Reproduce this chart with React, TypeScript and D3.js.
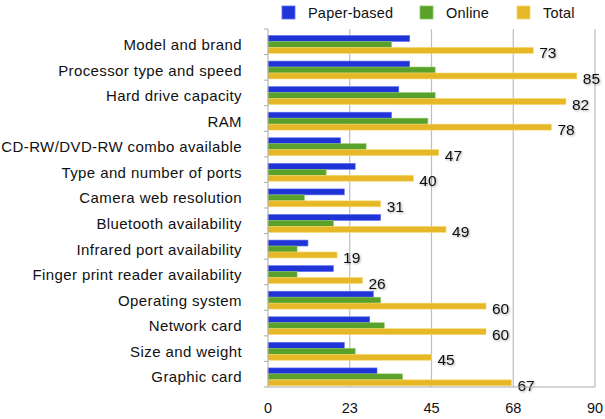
import React from "react";
import * as d3 from "d3";

const categories = [
	"Model and brand",
	"Processor type and speed",
	"Hard drive capacity",
	"RAM",
	"CD-RW/DVD-RW combo available",
	"Type and number of ports",
	"Camera web resolution",
	"Bluetooth availability",
	"Infrared port availability",
	"Finger print reader availability",
	"Operating system",
	"Network card",
	"Size and weight",
	"Graphic card",
];

const paperBased = [39, 39, 36, 34, 20, 24, 21, 31, 11, 18, 29, 28, 21, 30];
const online = [34, 46, 46, 44, 27, 16, 10, 18, 8, 8, 31, 32, 24, 37];
const total = [73, 85, 82, 78, 47, 40, 31, 49, 19, 26, 60, 60, 45, 67];

const seriesNames = ["Paper-based", "Online", "Total"];
const seriesColors = ["#1f33d6", "#59a12a", "#e6b828"];
const seriesEdge = ["#5f70f0", "#8cc860", "#f6d870"];
const xTicks = [0, 22.5, 45, 67.5, 90];

const W = 605;
const H = 419;
const left = 268;
const right = 595;
const top = 29;
const bottom = 387;
const font = "'Liberation Sans', Arial, Helvetica, sans-serif";

export default function App() {
	const x = d3.scaleLinear().domain([0, 90]).range([left, right]);
	const y = d3.scaleBand<string>().domain(categories).range([top, bottom]);
	const inner = d3
		.scaleBand<string>()
		.domain(seriesNames)
		.range([6.5, y.bandwidth() - 1.2]);
	const values = [paperBased, online, total];

	return (
		<svg
			width={W}
			height={H}
			style={{ position: "absolute", left: 0, top: 0 }}
			fontFamily={font}
		>
			<defs>
				<filter id="shadow" x="-20%" y="-20%" width="140%" height="160%">
					<feDropShadow dx="1" dy="1" stdDeviation="0.8" floodColor="#000" floodOpacity="0.35" />
				</filter>
			</defs>
			<rect width={W} height={H} fill="#fff" />

			{/* legend */}
			{seriesNames.map((name, i) => {
				const lx = [282, 420, 517][i];
				return (
					<g key={name}>
						<rect x={lx} y={6} width={13} height={13} fill={seriesColors[i]} stroke={seriesEdge[i]} strokeWidth={0.8} />
						<text x={lx + 26} y={18} fontSize={14.5} letterSpacing={0.2} fill="#111">
							{name}
						</text>
					</g>
				);
			})}

			{/* grid lines */}
			{xTicks.slice(1).map((t) => (
				<line key={t} x1={x(t)} x2={x(t)} y1={top} y2={bottom} stroke="#bdbdbd" strokeWidth={1.2} />
			))}

			{/* bars */}
			{categories.map((c, ci) => (
				<g key={c} transform={`translate(0,${y(c)})`}>
					{seriesNames.map((s, si) => (
						<rect
							key={s}
							x={x(0)}
							y={inner(s)}
							width={x(values[si][ci]) - x(0)}
							height={inner.bandwidth()}
							fill={seriesColors[si]}
							stroke={seriesEdge[si]}
							strokeWidth={0.6}
						/>
					))}
					<text
						x={x(total[ci]) + 6}
						y={(inner("Total") ?? 0) + inner.bandwidth() / 2 + 8}
						fontSize={15.5}
						fill="#111"
						filter="url(#shadow)"
					>
						{total[ci]}
					</text>
					<text
						x={242}
						y={y.bandwidth() / 2 + 8.2}
						textAnchor="end"
						fontSize={15}
						letterSpacing={0.4}
						fill="#111"
					>
						{c}
					</text>
				</g>
			))}

			{/* axes */}
			<line x1={left} x2={left} y1={top} y2={bottom} stroke="#aaa" strokeWidth={1} />
			<line x1={left} x2={right} y1={bottom} y2={bottom} stroke="#aaa" strokeWidth={1} />
			{categories.map((c) => (
				<line key={c} x1={left - 4} x2={left} y1={y(c)} y2={y(c)} stroke="#aaa" />
			))}
			<line x1={left - 4} x2={left} y1={bottom} y2={bottom} stroke="#aaa" />
			{xTicks.map((t) => (
				<text key={t} x={x(t)} y={413} textAnchor="middle" fontSize={14.5} fill="#111">
					{Math.round(t)}
				</text>
			))}
		</svg>
	);
}
